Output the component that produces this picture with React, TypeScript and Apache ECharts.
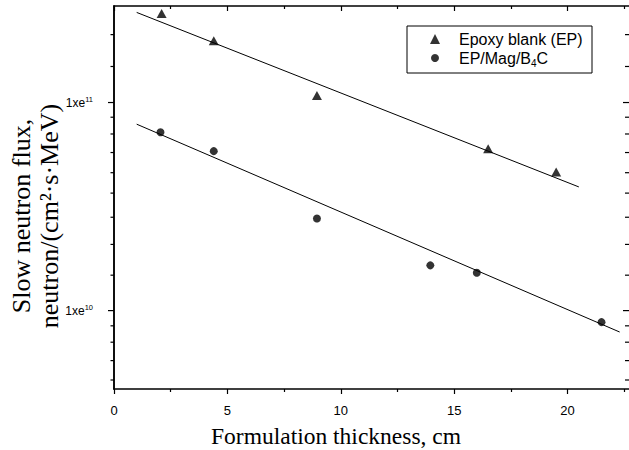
import React, { useEffect, useRef } from "react";
import * as echarts from "echarts";

const SANS = '"Liberation Sans", Arial, sans-serif';
const SERIF = '"Liberation Serif", "Times New Roman", serif';
const BLACK = "#000";

// Measured slow neutron flux vs. formulation thickness
const epName = "Epoxy blank (EP)";
const epThickness = [2.1, 4.4, 8.95, 16.5, 19.5];
const epFlux = [2.68e11, 1.98e11, 1.08e11, 6.0e10, 4.63e10];

const magName = "EP/Mag/B4C";
const magThickness = [2.05, 4.4, 8.95, 13.95, 16.0, 21.5];
const magFlux = [7.2e10, 5.84e10, 2.77e10, 1.65e10, 1.52e10, 8.8e9];

// Exponential attenuation fits (end points of each fitted line)
const epFitThickness = [1.0, 20.5];
const epFitFlux = [2.71e11, 3.93e10];
const magFitThickness = [1.0, 22.3];
const magFitFlux = [7.87e10, 7.89e9];

// Axis ticks
const xMajorTicks = [0, 5, 10, 15, 20];
const xMinorTicks = [2.5, 7.5, 12.5, 17.5, 22.5];
const yMajorTicks = [1e10, 1e11];
const yMinorTicks = [
  4.64e9, 5.75e9, 7.05e9, 8.45e9, 1.48e10, 2.08e10, 2.81e10, 3.67e10, 4.6e10,
  5.75e10, 7.06e10, 8.5e10, 1.49e11, 2.12e11,
];

const X_MIN = 0;
const X_MAX = 22.8;
const Y_MIN = 4.2e9;
const Y_MAX = 2.91e11;

const pairs = (xs: number[], ys: number[]) => xs.map((x, i) => [x, ys[i]]);

function makeXAxis(
  position: "top" | "bottom",
  ticks: number[],
  length: number,
  inside: boolean,
  withLine: boolean,
  withLabels: boolean
) {
  return {
    type: "value",
    position,
    min: X_MIN,
    max: X_MAX,
    axisLine: { show: withLine, onZero: false, lineStyle: { color: BLACK, width: 1.5 } },
    axisTick: {
      show: true,
      inside,
      length,
      customValues: ticks,
      lineStyle: { color: BLACK, width: 1.2 },
    },
    axisLabel: withLabels
      ? {
          show: true,
          customValues: ticks,
          margin: 15,
          color: BLACK,
          fontSize: 13,
          fontFamily: SANS,
        }
      : { show: false },
    splitLine: { show: false },
  };
}

function makeYAxis(position: "left" | "right", withLabels: boolean) {
  return {
    type: "log",
    logBase: 10,
    position,
    min: Y_MIN,
    max: Y_MAX,
    axisLine: { show: true, lineStyle: { color: BLACK, width: 1.5 } },
    axisTick: { show: false },
    axisLabel: withLabels
      ? {
          show: true,
          customValues: yMajorTicks,
          margin: 21,
          color: BLACK,
          fontFamily: SANS,
          formatter: (v: number) => `{b|1xe}{s|${Math.round(Math.log10(v))}}`,
          rich: {
            b: { fontSize: 12, lineHeight: 15, fontFamily: SANS, color: BLACK },
            s: {
              fontSize: 7.5,
              lineHeight: 8,
              verticalAlign: "top",
              fontFamily: SANS,
              color: BLACK,
            },
          },
        }
      : { show: false },
    splitLine: { show: false },
  };
}

// Tick marks on the log axes: [x, value, length, side(0 = left, 1 = right)]
const yTickData = [
  ...yMajorTicks.map((v) => [X_MIN, v, 6, 0]),
  ...yMinorTicks.map((v) => [X_MIN, v, 3.5, 0]),
  ...yMajorTicks.map((v) => [X_MAX, v, 8, 1]),
  ...yMinorTicks.map((v) => [X_MAX, v, 6, 1]),
];

const legendText = {
  color: BLACK,
  fontSize: 16,
  lineHeight: 20,
  fontFamily: SANS,
  rich: {
    sub: { fontSize: 10, lineHeight: 10, verticalAlign: "bottom", fontFamily: SANS, color: BLACK },
  },
};

const option = {
  animation: false,
  backgroundColor: "#fff",
  grid: { left: 114, right: -2, top: 6, bottom: 61, outerBoundsMode: "none" },
  xAxis: [
    makeXAxis("bottom", xMajorTicks, 5, false, true, true),
    makeXAxis("bottom", xMinorTicks, 3, false, false, false),
    makeXAxis("top", xMajorTicks, 5, true, true, false),
    makeXAxis("top", xMinorTicks, 3, true, false, false),
  ],
  yAxis: [makeYAxis("left", true), makeYAxis("right", false)],
  legend: [
    {
      data: [{ name: epName, icon: "triangle" }],
      left: 430,
      top: 29,
      padding: 0,
      itemWidth: 10,
      itemHeight: 10,
      selectedMode: false,
      textStyle: { ...legendText, padding: [0, 0, 0, 14] },
    },
    {
      data: [{ name: magName, icon: "circle" }],
      left: 431,
      top: 48,
      padding: 0,
      itemWidth: 8,
      itemHeight: 8,
      selectedMode: false,
      textStyle: { ...legendText, padding: [0, 0, 0, 15] },
      formatter: () => "EP/Mag/B{sub|4}C",
    },
  ],
  graphic: [
    {
      type: "rect",
      shape: { x: 407, y: 26, width: 185, height: 47 },
      style: { fill: "none", stroke: BLACK, lineWidth: 1 },
      z: 10,
    },
    {
      type: "text",
      x: 336,
      y: 436,
      style: {
        text: "Formulation thickness, cm",
        fontSize: 23.5,
        fontFamily: SERIF,
        fill: BLACK,
        align: "center",
        verticalAlign: "middle",
      },
    },
    {
      type: "text",
      x: 35,
      y: 216,
      rotation: Math.PI / 2,
      style: {
        text: "Slow neutron flux,\nneutron/(cm²·s·MeV)",
        fontSize: 26,
        lineHeight: 28,
        fontFamily: SERIF,
        fill: BLACK,
        align: "center",
        verticalAlign: "middle",
      },
    },
  ],
  series: [
    {
      name: "y ticks",
      type: "custom",
      coordinateSystem: "cartesian2d",
      xAxisIndex: 0,
      yAxisIndex: 0,
      clip: false,
      silent: true,
      encode: { x: 0, y: 1 },
      data: yTickData,
      renderItem: (params: any, api: any) => {
        const p = api.coord([api.value(0), api.value(1)]);
        const len = api.value(2);
        const right = api.value(3) === 1;
        const x1 = right ? p[0] - len : p[0] - len;
        const x2 = right ? p[0] : p[0];
        return {
          type: "line",
          shape: { x1, y1: p[1], x2, y2: p[1] },
          style: { stroke: BLACK, lineWidth: 1.2 },
        };
      },
      z: 1,
    },
    {
      name: "EP fit",
      type: "line",
      data: pairs(epFitThickness, epFitFlux),
      showSymbol: false,
      symbol: "none",
      lineStyle: { color: BLACK, width: 1 },
      z: 2,
    },
    {
      name: "EP/Mag/B4C fit",
      type: "line",
      data: pairs(magFitThickness, magFitFlux),
      showSymbol: false,
      symbol: "none",
      lineStyle: { color: BLACK, width: 1 },
      z: 2,
    },
    {
      name: epName,
      type: "scatter",
      symbol: "triangle",
      symbolSize: [10, 9],
      itemStyle: { color: BLACK },
      data: pairs(epThickness, epFlux),
      z: 3,
    },
    {
      name: magName,
      type: "scatter",
      symbol: "circle",
      symbolSize: 8,
      itemStyle: { color: BLACK },
      data: pairs(magThickness, magFlux),
      z: 3,
    },
  ],
};

export default function App() {
  const ref = useRef<HTMLDivElement>(null);
  useEffect(() => {
    const chart = echarts.init(ref.current!, null, { renderer: "svg" });
    chart.setOption(option as any);
    return () => chart.dispose();
  }, []);
  return (
    <div
      ref={ref}
      style={{ position: "absolute", left: 0, top: 0, width: 629, height: 450, background: "#fff" }}
    />
  );
}
